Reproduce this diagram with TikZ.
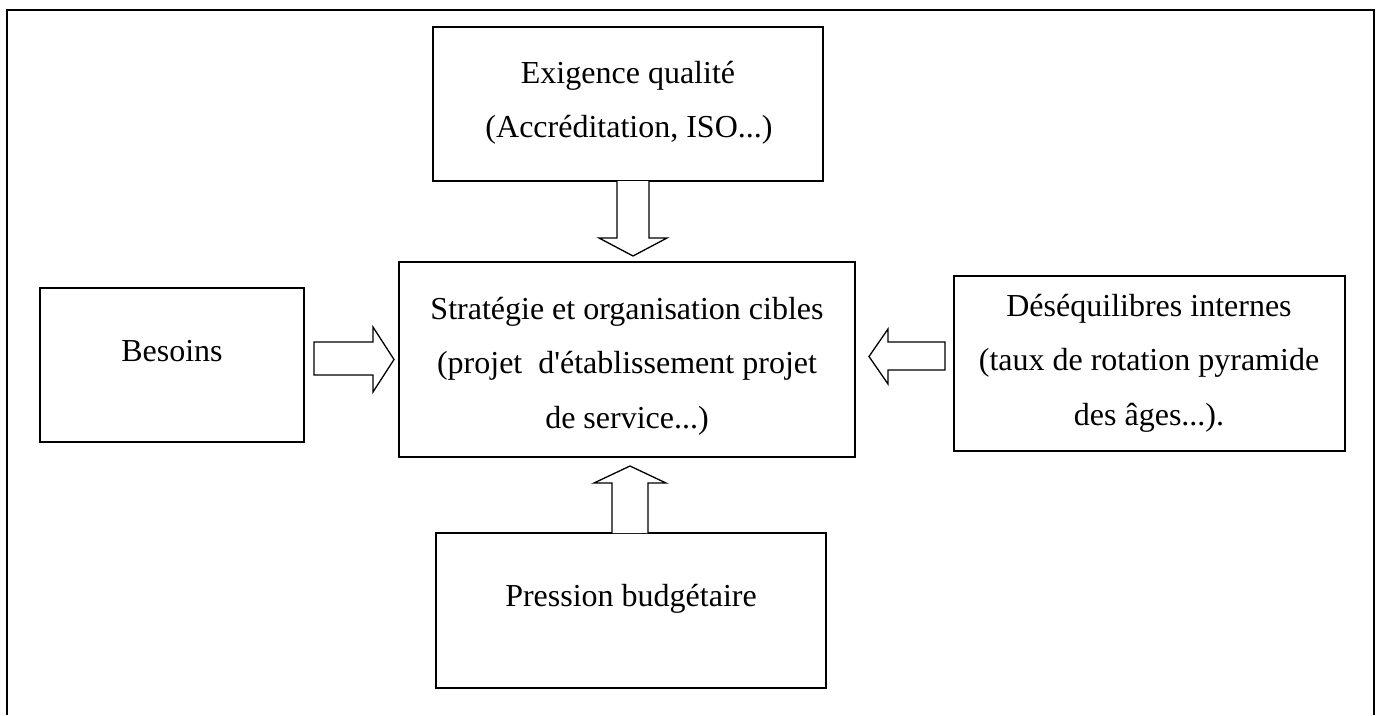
\documentclass[tikz,border=0pt]{standalone}
\usepackage{fontspec}
\setmainfont{Liberation Serif}
\begin{document}
\begin{tikzpicture}[x=1pt,y=-1pt,
  box/.style={draw=black, line width=1.4pt, inner sep=0pt, fill=white},
  txt/.style={anchor=base, inner sep=0pt},
  blockarrow/.style={draw=black, line width=1.3pt, fill=white, line join=miter},
  font=\fontsize{32}{55}\selectfont]
\useasboundingbox (0,0) rectangle (1378,715);
% outer frame (open at the bottom)
\draw[line width=1.4pt] (7,715) -- (7,10) -- (1374,10) -- (1374,715);

% boxes
\node[box, minimum width=390pt, minimum height=154pt] (top) at (628,104) {};
\node[box, minimum width=456pt, minimum height=195pt] (center) at (627,359.5) {};
\node[box, minimum width=264pt, minimum height=154pt] (left) at (172,365) {};
\node[box, minimum width=391pt, minimum height=175pt] (right) at (1149.5,363.5) {};
\node[box, minimum width=390pt, minimum height=155pt] (bottom) at (631,610.5) {};

% texts
\node[txt] (top1) at (628,83) {Exigence qualité};
\node[txt] (top2) at (629,137) {(Accréditation, ISO...)};
\node[txt] (c1) at (627,319) {Stratégie et organisation cibles};
\node[txt] (c2) at (627,373) {(projet\ \ d\textquotesingle établissement projet};
\node[txt] (c3) at (627,428) {de service...)};
\node[txt] (l1) at (172,361) {Besoins};
\node[txt] (r1) at (1149,316) {Déséquilibres internes};
\node[txt] (r2) at (1149,370) {(taux de rotation pyramide};
\node[txt] (r3) at (1149,425) {des âges...).};
\node[txt] (b1) at (631,606) {Pression budgétaire};

% block arrows
\draw[blockarrow] (617,181) -- (617,238) -- (599,238) -- (633,256) -- (667,238) -- (649,238) -- (649,181);
\draw[blockarrow] (314,342) -- (373,342) -- (373,327) -- (394,359.5) -- (373,392) -- (373,375) -- (314,375) -- cycle;
\draw[blockarrow] (945,342) -- (888,342) -- (888,329) -- (869,356.5) -- (888,384) -- (888,370) -- (945,370) -- cycle;
\draw[blockarrow] (612,533) -- (612,483) -- (594,483) -- (630,466) -- (666,483) -- (648,483) -- (648,533);
\end{tikzpicture}
\end{document}
